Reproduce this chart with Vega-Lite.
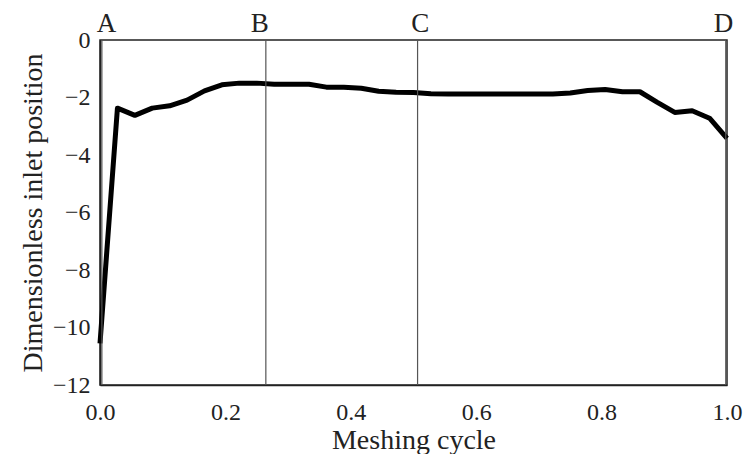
{
  "$schema": "https://vega.github.io/schema/vega-lite/v6.json",
  "width": 627,
  "height": 345,
  "autosize": {"type": "none"},
  "padding": {"left": 100, "top": 40, "right": 18, "bottom": 69},
  "background": "white",
  "config": {
    "view": {"stroke": "#222", "strokeWidth": 1.5},
    "axis": {
      "grid": false,
      "domainColor": "#222",
      "domainWidth": 1.5,
      "ticks": false,
      "labelFont": "Liberation Serif",
      "labelFontSize": 24,
      "labelColor": "#222",
      "labelFlush": false,
      "titleFont": "Liberation Serif",
      "titleFontSize": 28,
      "titleFontWeight": "normal",
      "titleColor": "#222"
    }
  },
  "datasets": {
    "curve": [
      {"cycle": 0.0, "position": -10.55},
      {"cycle": 0.0278, "position": -2.37},
      {"cycle": 0.0556, "position": -2.62},
      {"cycle": 0.0833, "position": -2.37},
      {"cycle": 0.1111, "position": -2.29},
      {"cycle": 0.1389, "position": -2.09},
      {"cycle": 0.1667, "position": -1.77},
      {"cycle": 0.1944, "position": -1.56},
      {"cycle": 0.2222, "position": -1.5},
      {"cycle": 0.25, "position": -1.5},
      {"cycle": 0.2778, "position": -1.54},
      {"cycle": 0.3056, "position": -1.54},
      {"cycle": 0.3333, "position": -1.54},
      {"cycle": 0.3611, "position": -1.64},
      {"cycle": 0.3889, "position": -1.64},
      {"cycle": 0.4167, "position": -1.68},
      {"cycle": 0.4444, "position": -1.78},
      {"cycle": 0.4722, "position": -1.82},
      {"cycle": 0.5, "position": -1.83},
      {"cycle": 0.5278, "position": -1.87},
      {"cycle": 0.5556, "position": -1.88},
      {"cycle": 0.5833, "position": -1.88},
      {"cycle": 0.6111, "position": -1.88},
      {"cycle": 0.6389, "position": -1.88},
      {"cycle": 0.6667, "position": -1.88},
      {"cycle": 0.6944, "position": -1.88},
      {"cycle": 0.7222, "position": -1.88},
      {"cycle": 0.75, "position": -1.84},
      {"cycle": 0.7778, "position": -1.76},
      {"cycle": 0.8056, "position": -1.72},
      {"cycle": 0.8333, "position": -1.8},
      {"cycle": 0.8611, "position": -1.8},
      {"cycle": 0.8889, "position": -2.17},
      {"cycle": 0.9167, "position": -2.52},
      {"cycle": 0.9444, "position": -2.46},
      {"cycle": 0.9722, "position": -2.72},
      {"cycle": 1.0, "position": -3.42}
    ],
    "markers": [
      {"cycle": 0.003},
      {"cycle": 0.2645},
      {"cycle": 0.5065},
      {"cycle": 0.998}
    ],
    "labels": [
      {"cycle": 0.0104, "label": "A"},
      {"cycle": 0.2546, "label": "B"},
      {"cycle": 0.5108, "label": "C"},
      {"cycle": 0.9944, "label": "D"}
    ]
  },
  "layer": [
    {
      "data": {"name": "curve"},
      "mark": {"type": "line", "color": "black", "strokeWidth": 5, "strokeJoin": "round"},
      "encoding": {
        "x": {
          "field": "cycle", "type": "quantitative",
          "scale": {"domain": [0, 1], "nice": false, "zero": false},
          "axis": {"orient": "bottom", "values": [0, 0.2, 0.4, 0.6, 0.8, 1], "format": ".1f", "labelPadding": 15, "title": "Meshing cycle", "titlePadding": 2}
        },
        "y": {
          "field": "position", "type": "quantitative",
          "scale": {"domain": [-12, 0], "nice": false, "zero": false},
          "axis": {"orient": "left", "values": [-12, -10, -8, -6, -4, -2, 0], "labelPadding": 10, "title": "Dimensionless inlet position", "titlePadding": 5}
        }
      }
    },
    {
      "data": {"name": "markers"},
      "mark": {"type": "rule", "color": "#555", "strokeWidth": 1.2},
      "encoding": {
        "x": {"field": "cycle", "type": "quantitative"}
      }
    },
    {
      "data": {"name": "labels"},
      "mark": {"type": "text", "font": "Liberation Serif", "fontSize": 27, "color": "#222", "baseline": "alphabetic", "dy": -8},
      "encoding": {
        "x": {"field": "cycle", "type": "quantitative"},
        "y": {"datum": 0, "type": "quantitative"},
        "text": {"field": "label"}
      }
    }
  ]
}
